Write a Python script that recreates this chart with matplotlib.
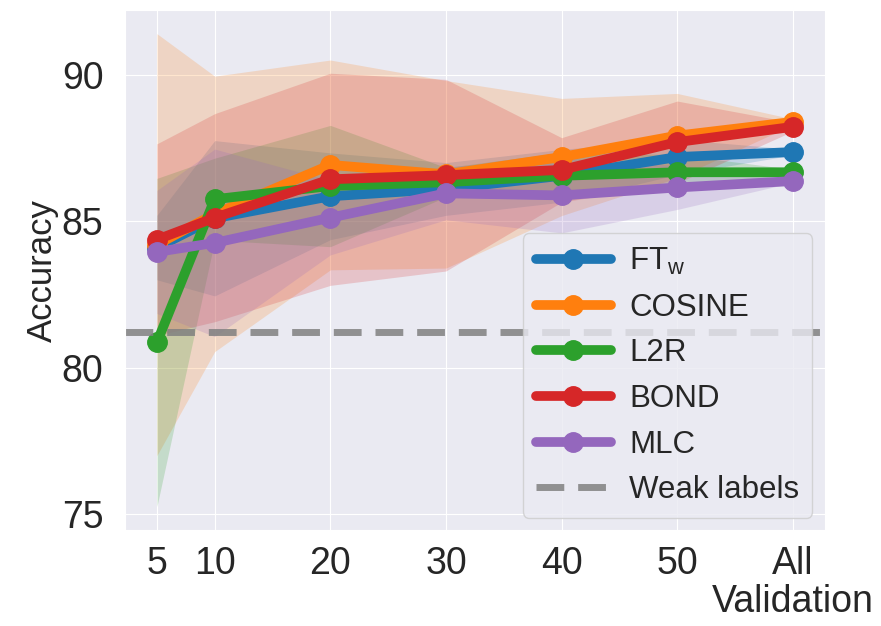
import numpy as np
import matplotlib
matplotlib.use("Agg")
import matplotlib.pyplot as plt
import seaborn as sns

sns.set_style("darkgrid")
plt.rcParams['font.family'] = ['Liberation Sans', 'DejaVu Sans']
plt.rcParams['mathtext.default'] = 'regular'

# validation set sizes ("All" placed at 60)
val_sizes = [5, 10, 20, 30, 40, 50, 60]
tick_labels = ['5', '10', '20', '30', '40', '50', 'All\nValidation']

methods = [r'FT$_{w}$', 'COSINE', 'L2R', 'BOND', 'MLC']

ftw_mean = [84.1, 85.1, 85.85, 86.1, 86.55, 87.19, 87.36]
ftw_std = [1.1, 2.65, 1.48, 0.9, 0.9, 0.6, 0.1]

cosine_mean = [84.2, 85.25, 86.92, 86.6, 87.19, 87.92, 88.39]
cosine_std = [7.2, 4.7, 3.58, 3.2, 2.0, 1.44, 0.1]

l2r_mean = [80.86, 85.75, 86.2, 86.33, 86.55, 86.67, 86.67]
l2r_std = [5.6, 1.4, 2.07, 0.5, 0.8, 0.6, 0.1]

bond_mean = [84.37, 85.12, 86.43, 86.57, 86.75, 87.7, 88.22]
bond_std = [3.27, 3.55, 3.62, 3.27, 1.1, 1.4, 0.15]

mlc_mean = [83.95, 84.26, 85.12, 85.95, 85.88, 86.15, 86.37]
mlc_std = [2.1, 3.2, 1.27, 0.9, 1.28, 0.75, 0.05]

weak_labels_acc = 81.23

means = [ftw_mean, cosine_mean, l2r_mean, bond_mean, mlc_mean]
stds = [ftw_std, cosine_std, l2r_std, bond_std, mlc_std]
colors = ['tab:blue', 'tab:orange', 'tab:green', 'tab:red', 'tab:purple']

fig = plt.figure(figsize=(8.81, 6.26), dpi=100)
ax = fig.add_axes([0.142, 0.153, 0.794, 0.831])

for name, m, s, c in zip(methods, means, stds, colors):
    m = np.array(m)
    s = np.array(s)
    ax.plot(val_sizes, m, color=c, lw=7, marker='o', ms=14, label=name)
    ax.fill_between(val_sizes, m - s, m + s, color=c, alpha=0.2, lw=0)

ax.axhline(weak_labels_acc, color='grey', lw=5, ls=(0, (4, 2)), alpha=0.85,
           label='Weak labels')

ax.set_xticks(val_sizes)
ax.set_xticklabels(tick_labels, fontsize=27, va='top')
ax.set_yticks([75, 80, 85, 90])
ax.tick_params(axis='y', labelsize=27, pad=12)
ax.tick_params(axis='x', pad=8)
for lab in ax.get_xticklabels():
    lab.set_linespacing(1.05)
ax.set_ylabel('Accuracy', fontsize=25, labelpad=2)

ax.legend(loc='lower right', fontsize=22.5, handlelength=2.4, handletextpad=0.6,
          borderaxespad=0.4)

fig.savefig('out.png', dpi=100)
